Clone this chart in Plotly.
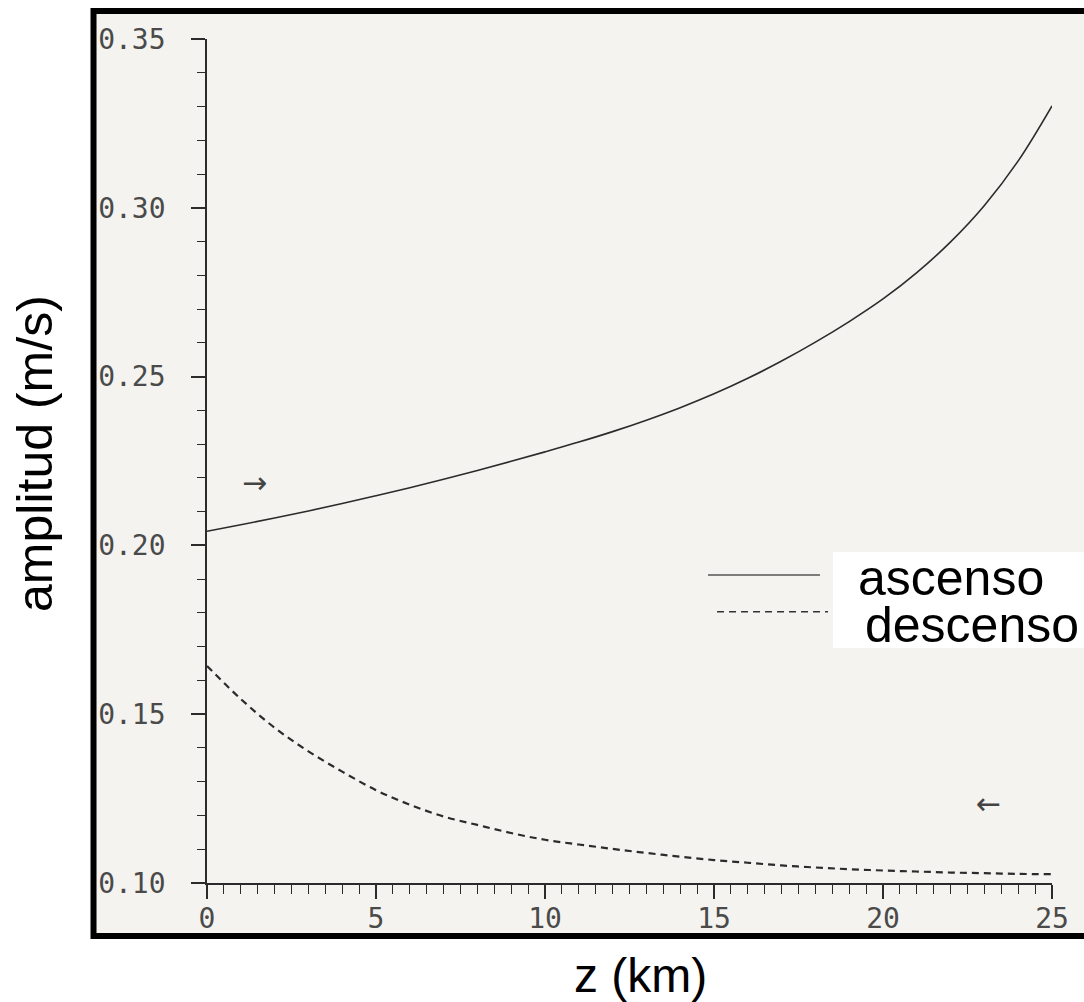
import plotly.graph_objects as go

# Altitude grid (km) and wave amplitude (m/s) for the upward and downward waves
z_km = [0, 1, 2, 3, 4, 5, 6, 7, 8, 9, 10, 11, 12, 13, 14, 15, 16, 17, 18, 19, 20, 21, 22, 23, 24, 25]
amp_ascenso = [0.2042, 0.2061, 0.2081, 0.2102, 0.2124, 0.2147, 0.2171, 0.2196, 0.2222, 0.2249,
               0.2277, 0.2306, 0.2337, 0.2371, 0.2408, 0.2449, 0.2495, 0.2546, 0.2602, 0.2663,
               0.2730, 0.2808, 0.2899, 0.3007, 0.3139, 0.3302]
amp_descenso = [0.1643, 0.1545, 0.1460, 0.1390, 0.1330, 0.1275, 0.1232, 0.1197, 0.1172, 0.1148,
                0.1128, 0.1114, 0.1101, 0.1089, 0.1078, 0.1068, 0.1060, 0.1052, 0.1046, 0.1041,
                0.1037, 0.1034, 0.1031, 0.1029, 0.1027, 0.1026]

x_ticks = [0, 5, 10, 15, 20, 25]
y_ticks = [0.10, 0.15, 0.20, 0.25, 0.30, 0.35]

INK = "#2b2b2b"
PAGE = "#f4f3ef"

fig = go.Figure()
fig.add_trace(go.Scatter(x=z_km, y=amp_ascenso, mode="lines", name="ascenso",
                         line=dict(color=INK, width=1.6, shape="spline", smoothing=1.0)))
fig.add_trace(go.Scatter(x=z_km, y=amp_descenso, mode="lines", name="descenso",
                         line=dict(color=INK, width=2.2, dash="7px,5px", shape="spline", smoothing=1.0)))

tick_font = dict(family="DejaVu Sans Mono", size=28, color="#4a4a4a")

fig.update_xaxes(range=[0, 25], tickvals=x_ticks, ticktext=[str(v) for v in x_ticks],
                 showline=True, linecolor=INK, linewidth=1.6, showgrid=False, zeroline=False,
                 ticks="outside", ticklen=14, tickwidth=1.6, tickcolor=INK,
                 minor=dict(dtick=0.5, tick0=0, ticks="outside", ticklen=9, tickwidth=1.4, tickcolor=INK,
                            showgrid=False),
                 tickfont=tick_font, ticklabelstandoff=-4)
fig.update_yaxes(range=[0.10, 0.35], tickvals=y_ticks, ticktext=[f"{v:.2f}" for v in y_ticks],
                 showline=True, linecolor=INK, linewidth=1.6, showgrid=False, zeroline=False,
                 ticks="outside", ticklen=14, tickwidth=1.6, tickcolor=INK,
                 minor=dict(dtick=0.01, tick0=0.10, ticks="outside", ticklen=8, tickwidth=1.4, tickcolor=INK,
                            showgrid=False),
                 tickfont=tick_font, ticklabelstandoff=20)

# Page frame around the plot
fig.add_shape(type="rect", xref="paper", yref="paper", x0=-0.1343, x1=1.0568, y0=-0.0628, y1=1.0332,
              line=dict(color="black", width=6), fillcolor=PAGE, layer="below")

# Legend: white panel, line samples and labels
fig.add_shape(type="rect", xref="paper", yref="paper", x0=0.7408, x1=1.06, y0=0.2784, y1=0.3922,
              line=dict(width=0), fillcolor="white", layer="below")
fig.add_shape(type="line", xref="paper", yref="paper", x0=0.5929, x1=0.7254, y0=0.3649, y1=0.3649,
              line=dict(color="#555555", width=1.6))
fig.add_shape(type="line", xref="paper", yref="paper", x0=0.6036, x1=0.7349, y0=0.3214, y1=0.3214,
              line=dict(color="#333333", width=1.6, dash="7px,5px"))
legend_font = dict(family="Liberation Sans, Arial, sans-serif", size=50, color="black")
fig.add_annotation(xref="paper", yref="paper", x=0.768, y=0.3614, xanchor="left", yanchor="middle",
                   text="ascenso", showarrow=False, font=legend_font)
fig.add_annotation(xref="paper", yref="paper", x=0.7763, y=0.3057, xanchor="left", yanchor="middle",
                   text="descenso", showarrow=False, font=legend_font)

# Direction marks next to each curve
arrow_font = dict(family="DejaVu Sans", size=30, color="#444444")
fig.add_annotation(xref="paper", yref="paper", x=0.039, y=0.4751, text="→", showarrow=False,
                   font=arrow_font)
fig.add_annotation(xref="paper", yref="paper", x=0.942, y=0.0711, text="←", showarrow=False,
                   font=arrow_font)

# Axis titles
title_font = dict(family="Liberation Sans, Arial, sans-serif", size=50, color="black")
fig.add_annotation(xref="paper", yref="paper", x=-0.2036, y=0.5095, text="amplitud (m/s)",
                   textangle=-90, showarrow=False, font=title_font, xanchor="center", yanchor="middle")
fig.add_annotation(xref="paper", yref="paper", x=0.5136, y=-0.1100, text="z (km)",
                   showarrow=False, font=dict(family="Liberation Sans, Arial, sans-serif", size=48, color="black"),
                   xanchor="center", yanchor="middle")

fig.update_layout(width=1084, height=1002, margin=dict(l=207, r=32, t=39, b=119),
                  paper_bgcolor="white", plot_bgcolor="rgba(0,0,0,0)", showlegend=False)

fig.write_html("out.html")
